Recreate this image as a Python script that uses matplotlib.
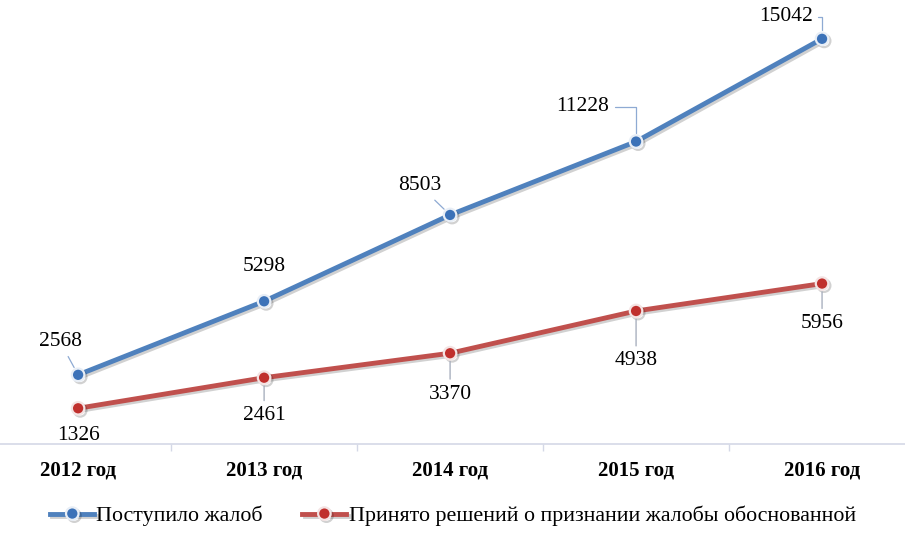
import numpy as np
import matplotlib
matplotlib.use('Agg')
import matplotlib.pyplot as plt
import matplotlib.patheffects as pe
from matplotlib import rcParams

rcParams['font.family'] = ['Liberation Serif', 'DejaVu Serif']

years = ['2012 год', '2013 год', '2014 год', '2015 год', '2016 год']
received = [2568, 5298, 8503, 11228, 15042]
justified = [1326, 2461, 3370, 4938, 5956]
name_received = 'Поступило жалоб'
name_justified = 'Принято решений о признании жалобы обоснованной'

blue = '#4F81BD'
red = '#C0504D'

# label offsets in pixels (dx, dy) and leader style
off_received = [(-18, 33), (0, 35), (-30, 29), (-53, 35), (-36, 22)]
conn_received = ['arc3', None, 'arc3', 'angle,angleA=0,angleB=90,rad=0', 'angle,angleA=0,angleB=90,rad=0']
off_justified = [(0, -27), (0, -38), (0, -41), (0, -50), (0, -40)]
conn_justified = [None, 'arc3', 'arc3', 'arc3', 'arc3']

fig = plt.figure(figsize=(9.05, 5.39), dpi=100)
ax = fig.add_axes([0, 1 - 444/539., 1, 444/539.])
x = np.arange(len(years))

shadow = [pe.SimpleLineShadow(offset=(1.5, -1.5), alpha=0.18, shadow_color='k'), pe.Normal()]
ax.plot(x, received, color=blue, lw=3.5, marker='o', ms=9, mfc='#3C72B8', mec='#E8EEF6', mew=1.6,
        label=name_received, path_effects=shadow, zorder=3)
ax.plot(x, justified, color=red, lw=3.5, marker='o', ms=9, mfc='#C0302D', mec='#F4E4E4', mew=1.6,
        label=name_justified, path_effects=shadow, zorder=3)

def put_labels(vals, offs, conns, lc):
    for i, v in enumerate(vals):
        dx, dy = offs[i]
        ap = None
        if conns[i] is not None:
            ap = dict(arrowstyle='-', color=lc, lw=0.9, shrinkA=2, shrinkB=6,
                      connectionstyle=conns[i])
        ax.annotate(str(v), xy=(i, v), xytext=(dx, dy), textcoords='offset pixels',
                    ha='center', va='center', fontsize=15.5, color='black',
                    arrowprops=ap, zorder=4)

put_labels(received, off_received, conn_received, '#8EAAD3')
put_labels(justified, off_justified, conn_justified, '#A0A8B8')

ax.set_xlim(-0.42, 4.446)
ax.set_ylim(0, 16483)
for s in ['top', 'right', 'left']:
    ax.spines[s].set_visible(False)
ax.spines['bottom'].set_color('#D4D8E6')
ax.spines['bottom'].set_linewidth(1.2)
ax.set_yticks([])
ax.set_xticks(x)
ax.set_xticklabels(years, fontsize=15, fontweight='bold')
ax.tick_params(axis='x', length=0, pad=12)
ax.set_xticks(np.arange(0.5, 4.5, 1.0), minor=True)
ax.tick_params(axis='x', which='minor', length=5, color='#D4D8E6', width=1)
ax.patch.set_visible(False)

fig.legend(loc='center', bbox_to_anchor=(453/905., 1 - 516/539.), ncol=2, frameon=False,
           fontsize=15.8, handlelength=2.0, handletextpad=0.1, columnspacing=1.8)

fig.savefig('out.png', dpi=100)
